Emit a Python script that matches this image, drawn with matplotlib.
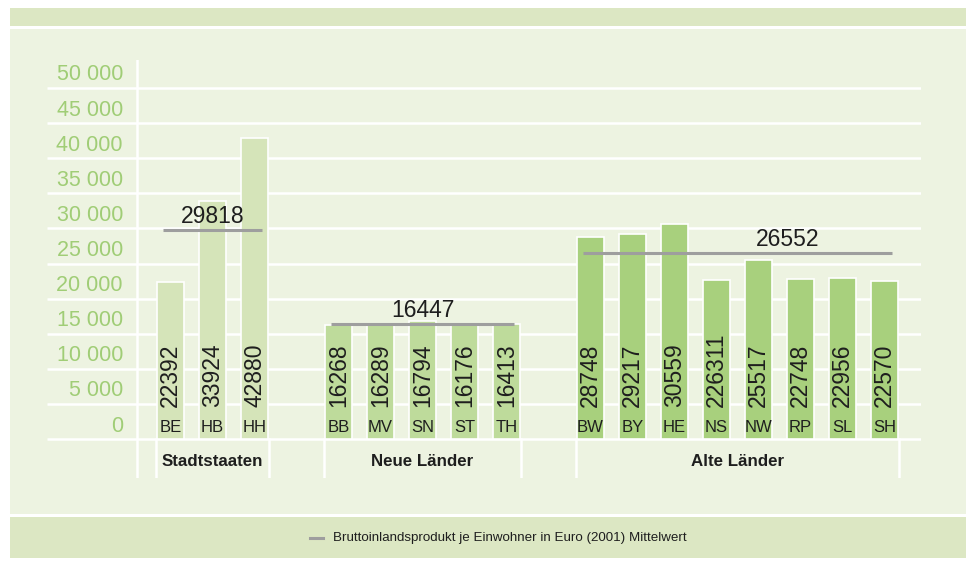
import matplotlib
matplotlib.use("Agg")
import matplotlib.pyplot as plt
from matplotlib.patches import Rectangle
from matplotlib import font_manager

# --- data -------------------------------------------------------------
group_names = ["Stadtstaaten", "Neue Länder", "Alte Länder"]

states_stadt = ["BE", "HB", "HH"]
values_stadt = [22392, 33924, 42880]
labels_stadt = ["22392", "33924", "42880"]

states_neu = ["BB", "MV", "SN", "ST", "TH"]
values_neu = [16268, 16289, 16794, 16176, 16413]
labels_neu = ["16268", "16289", "16794", "16176", "16413"]

states_alt = ["BW", "BY", "HE", "NS", "NW", "RP", "SL", "SH"]
values_alt = [28748, 29217, 30559, 22631, 25517, 22748, 22956, 22570]
labels_alt = ["28748", "29217", "30559", "226311", "25517", "22748", "22956", "22570"]

group_means = [29818, 16447, 26552]

y_ticks = [0, 5000, 10000, 15000, 20000, 25000, 30000, 35000, 40000, 45000, 50000]
y_tick_labels = ["0", "5 000", "10 000", "15 000", "20 000", "25 000",
                 "30 000", "35 000", "40 000", "45 000", "50 000"]

legend_text = "Bruttoinlandsprodukt je Einwohner in Euro (2001) Mittelwert"

# --- style ------------------------------------------------------------
FONT = ["Liberation Sans", "DejaVu Sans"]
available = {f.name for f in font_manager.fontManager.ttflist}
HAS_NARROW = "Liberation Sans Narrow" in available
NARROW = ["Liberation Sans Narrow", "Liberation Sans", "DejaVu Sans"] if HAS_NARROW else FONT
plt.rcParams["font.family"] = FONT

band_color = "#dce7c3"
panel_color = "#edf3e1"
bar_colors = ["#d5e4b9", "#bedb9b", "#a8d07d"]
tick_color = "#a0cd76"
mean_color = "#9e9e9e"
text_color = "#1e1e1e"

W, H = 976, 561
fig = plt.figure(figsize=(W / 100, H / 100), dpi=100)
fig.patch.set_facecolor("white")


def fig_rect(x0, y0, x1, y1, color):
    """Rectangle given in pixel coordinates measured from the top-left."""
    fig.patches.append(Rectangle((x0 / W, 1 - y1 / H), (x1 - x0) / W, (y1 - y0) / H,
                                 transform=fig.transFigure, facecolor=color,
                                 edgecolor="none", zorder=-10))


fig_rect(10, 8, 966, 26, band_color)      # header band
fig_rect(10, 29, 966, 514, panel_color)   # chart panel
fig_rect(10, 517, 966, 558, band_color)   # legend band

# axes placed so that 0 sits at y=439 px and 50 000 at y=88 px
px_per_unit = (439 - 88) / 50000
top_px, bottom_px = 60, 478
left_px, right_px = 47, 921
slot_px = 42.0
x0_px = 170.5  # centre of the first bar

ax = fig.add_axes([left_px / W, 1 - bottom_px / H,
                   (right_px - left_px) / W, (bottom_px - top_px) / H])
ax.set_zorder(5)
ax.set_xlim((left_px - x0_px) / slot_px, (right_px - x0_px) / slot_px)
ax.set_ylim(-(bottom_px - 439) / px_per_unit, (439 - top_px) / px_per_unit)
ax.patch.set_alpha(0)
for s in ax.spines.values():
    s.set_visible(False)
ax.set_xticks([])
ax.set_yticks([])

xmin, xmax = ax.get_xlim()
ymin, ymax = ax.get_ylim()

# horizontal white grid lines
for t in y_ticks:
    ax.plot([xmin, xmax], [t, t], color="white", lw=1.8, zorder=1,
            solid_capstyle="butt")

# vertical axis line
axis_x = (137 - x0_px) / slot_px
ax.plot([axis_x, axis_x], [ymin, ymax], color="white", lw=1.8, zorder=1)

# y tick labels, sitting above their grid line
label_x = (123 - x0_px) / slot_px
for t, lab in zip(y_ticks, y_tick_labels):
    ax.text(label_x, t + 13 / px_per_unit, lab, ha="right", va="center",
            fontsize=15.5, color=tick_color, zorder=4)

groups = [
    (states_stadt, values_stadt, labels_stadt),
    (states_neu, values_neu, labels_neu),
    (states_alt, values_alt, labels_alt),
]

bar_w = 27 / slot_px
start = 0
mean_label_shift = [0.0, 0.0, 1.2]
for gi, (states, values, labels) in enumerate(groups):
    xs = [start + i for i in range(len(states))]
    ax.bar(xs, values, width=bar_w, color=bar_colors[gi], edgecolor="white",
           linewidth=1.2, zorder=2)
    for x, v, lab, st in zip(xs, values, labels, states):
        ax.text(x, (439 - 407) / px_per_unit, lab, rotation=90, ha="center",
                va="bottom", fontsize=16.5, color=text_color, zorder=4)
        ax.text(x, (439 - 427) / px_per_unit, st, ha="center", va="center",
                fontsize=12, color=text_color, zorder=4)

    # group separators in the label strip
    left_edge = xs[0] - bar_w / 2 - 1 / slot_px
    right_edge = xs[-1] + bar_w / 2 + 0.5 / slot_px
    for ex in (left_edge, right_edge):
        ax.plot([ex, ex], [ymin, 0], color="white", lw=1.8, zorder=1)

    # group name
    cx = (xs[0] + xs[-1]) / 2
    ax.text(cx, -(462 - 439) / px_per_unit, group_names[gi], ha="center",
            va="center", fontsize=12.2, fontweight="bold", color=text_color,
            zorder=4)

    # group mean line with its value
    m = group_means[gi]
    ax.plot([xs[0] - 0.18, xs[-1] + 0.18], [m, m], color=mean_color, lw=2.2,
            zorder=3, solid_capstyle="butt")
    ax.text(cx + mean_label_shift[gi], m + 1.5 / px_per_unit, str(m),
            ha="center", va="bottom", fontsize=16.5, color=text_color, zorder=4)

    start += len(states) + 1

# legend
fig.add_artist(plt.Line2D([310 / W, 323 / W], [1 - 538 / H, 1 - 538 / H],
                          transform=fig.transFigure, color=mean_color, lw=2.2))
fig.text(333 / W, 1 - 538 / H, legend_text, ha="left", va="center",
         fontsize=12 if HAS_NARROW else 9.6, family=NARROW,
         color=text_color)

fig.savefig("out.png", dpi=100, facecolor=fig.get_facecolor())
